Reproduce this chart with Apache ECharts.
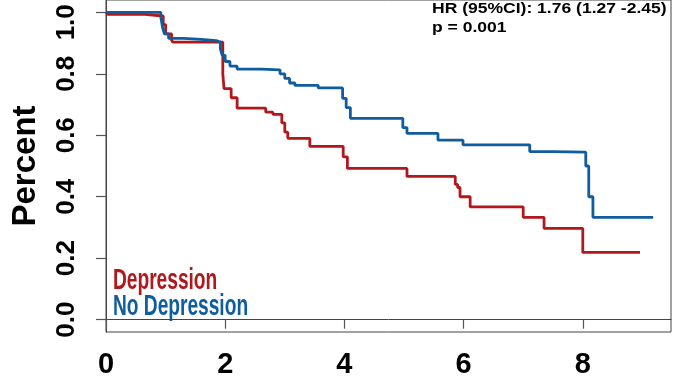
<!DOCTYPE html>
<html><head><meta charset="utf-8">
<script src="https://cdn.jsdelivr.net/npm/echarts@6/dist/echarts.min.js"></script>
<style>html,body{margin:0;padding:0;background:#fff}#c{width:675px;height:380px}</style>
</head><body><div id="c"></div>
<script>
// Depression group (Kaplan-Meier steps: time, survival after event)
const depTime = [0, 0.03, 0.65, 0.96, 1.0, 1.1, 1.12, 1.96, 1.98, 2.1, 2.2, 2.68, 2.8, 2.95, 3.0, 3.05, 3.42, 3.98, 4.05, 5.05, 5.86, 5.9, 5.94, 6.11, 7.0, 7.35, 8.0, 8.96];
const depSurv = [1.0, 0.993, 0.988, 0.96, 0.93, 0.91, 0.903, 0.80, 0.752, 0.722, 0.688, 0.675, 0.668, 0.64, 0.61, 0.59, 0.564, 0.53, 0.492, 0.466, 0.44, 0.43, 0.40, 0.367, 0.333, 0.297, 0.219, 0.219];
// No Depression group
const noDepTime = [0, 0.92, 0.95, 0.98, 1.05, 1.3, 1.6, 1.85, 1.92, 1.95, 2.0, 2.08, 2.2, 2.6, 2.92, 3.0, 3.08, 3.17, 3.56, 3.97, 4.03, 4.1, 4.98, 5.05, 5.57, 5.99, 7.11, 7.5, 8.05, 8.1, 8.17, 9.18];
const noDepSurv = [1.0, 0.985, 0.95, 0.93, 0.915, 0.912, 0.908, 0.903, 0.88, 0.86, 0.84, 0.825, 0.815, 0.813, 0.80, 0.785, 0.77, 0.762, 0.754, 0.72, 0.69, 0.655, 0.625, 0.606, 0.584, 0.569, 0.547, 0.545, 0.50, 0.40, 0.333, 0.333];
const xTicks = [0, 2, 4, 6, 8];
const yTicks = [0, 0.2, 0.4, 0.6, 0.8, 1.0];
const seriesNames = ['Depression', 'No Depression'];
const annotation = ['HR (95%CI): 1.76 (1.27 -2.45)', 'p = 0.001'];
const yAxisTitle = 'Percent';

const RED = '#B0181C', BLUE = '#0F5C9E';
const zip = (a, b) => a.map((v, i) => [v, b[i]]);

const chart = echarts.init(document.getElementById('c'), null, {renderer: 'canvas'});
chart.setOption({
  animation: false,
  backgroundColor: '#fff',
  grid: {left: 106, right: 4, top: 0, bottom: 48, show: true, borderColor: '#444', borderWidth: 1,
         containLabel: false, outerBoundsMode: 'none'},
  xAxis: {
    type: 'value', min: 0, max: 9.48,
    axisLine: {show: true, lineStyle: {color: '#444', width: 1}},
    axisTick: {show: true, length: 9, inside: false, customValues: xTicks, lineStyle: {color: '#555', width: 1.2}},
    splitLine: {show: false},
    axisLabel: {customValues: xTicks, margin: 18, fontFamily: 'Liberation Sans, Arial, sans-serif',
                fontWeight: 'bold', fontSize: 29, color: '#000'}
  },
  yAxis: {
    type: 'value', min: -0.04, max: 1.04,
    name: yAxisTitle, nameLocation: 'middle', nameGap: 64, nameRotate: 90,
    nameTextStyle: {fontFamily: 'Liberation Sans, Arial, sans-serif', fontWeight: 'bold', fontSize: 33, color: '#000'},
    axisLine: {show: true, lineStyle: {color: '#444', width: 1}},
    axisTick: {show: true, length: 10, customValues: yTicks, lineStyle: {color: '#555', width: 1.2}},
    splitLine: {show: false},
    axisLabel: {customValues: yTicks, rotate: 90, margin: 26,
                formatter: v => (v >= 0.999 ? '{top|' + v.toFixed(1) + '}' : v.toFixed(1)),
                rich: {top: {padding: [0, 20, 0, 0], fontFamily: 'Liberation Sans, Arial, sans-serif',
                             fontWeight: 'bold', fontSize: 26, color: '#000'}},
                fontFamily: 'Liberation Sans, Arial, sans-serif',
                fontWeight: 'bold', fontSize: 26, color: '#000'}
  },
  series: [
    {name: seriesNames[0], type: 'line', step: 'end', showSymbol: false, data: zip(depTime, depSurv),
     lineStyle: {color: RED, width: 2.8}, itemStyle: {color: RED}, z: 2},
    {name: seriesNames[1], type: 'line', step: 'end', showSymbol: false, data: zip(noDepTime, noDepSurv),
     lineStyle: {color: BLUE, width: 2.8}, itemStyle: {color: BLUE}, z: 3}
  ],
  graphic: [
    {type: 'text', x: 432, y: 1, scaleX: 1.13, style: {text: annotation[0], fill: '#000', align: 'left', verticalAlign: 'top',
      font: 'bold 15.5px "Liberation Sans", Arial, sans-serif'}},
    {type: 'text', x: 432, y: 20, scaleX: 1.13, style: {text: annotation[1], fill: '#000', align: 'left', verticalAlign: 'top',
      font: 'bold 15.5px "Liberation Sans", Arial, sans-serif'}},
    {type: 'text', x: 113, y: 266, scaleX: 0.66, style: {text: seriesNames[0], fill: RED, align: 'left', verticalAlign: 'top',
      font: 'bold 29px "Liberation Sans", Arial, sans-serif'}},
    {type: 'text', x: 113, y: 292, scaleX: 0.66, style: {text: seriesNames[1], fill: BLUE, align: 'left', verticalAlign: 'top',
      font: 'bold 29px "Liberation Sans", Arial, sans-serif'}}
  ]
});
</script>
</body></html>
